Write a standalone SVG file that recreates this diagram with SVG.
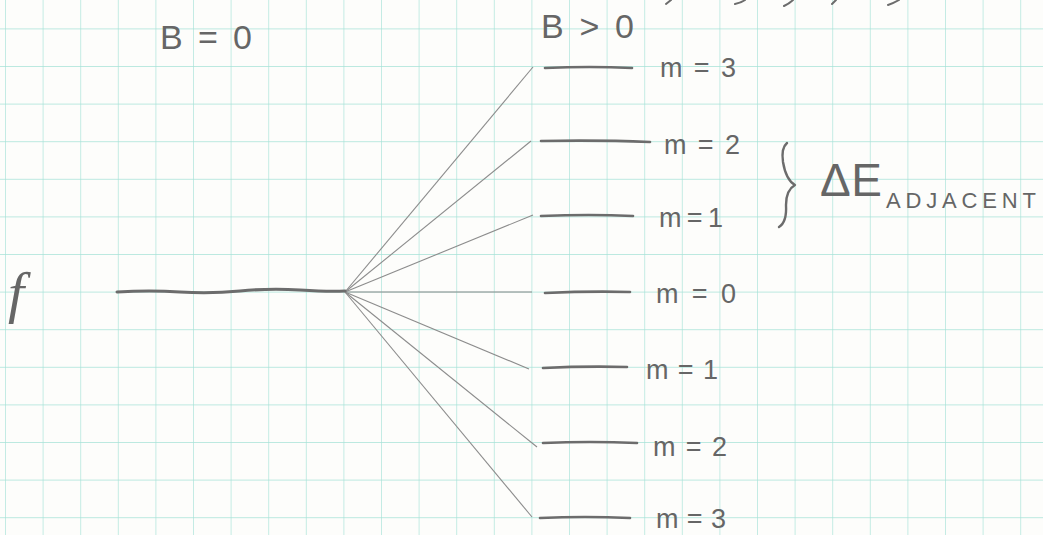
<svg xmlns="http://www.w3.org/2000/svg" width="1043" height="535" viewBox="0 0 1043 535">
  <defs>
    <pattern id="grid" x="5" y="28.4" width="37.6" height="37.6" patternUnits="userSpaceOnUse">
      <path d="M0 0 V37.6 M0 0 H37.6" fill="none" stroke="#a6e2d8" stroke-width="1.3"/>
    </pattern>
    <style>
      .pen { fill: none; stroke: #6c6c6c; stroke-linecap: round; stroke-linejoin: round; }
      .level { stroke-width: 2.6; }
      .fan { fill: none; stroke: #8c8c8c; stroke-width: 1.1; }
      .hand { font-family: "Liberation Sans", "DejaVu Sans", sans-serif; fill: #666666; }
      .mlab { font-size: 27px; }
      .big { font-size: 34px; }
    </style>
  </defs>

  <rect width="1043" height="535" fill="#fdfdfb"/>
  <rect width="1043" height="535" fill="url(#grid)"/>

  <!-- cut-off handwriting at the top edge -->
  <g id="top-fragments" class="pen" stroke-width="2">
    <path d="M666 4 L671 0"/>
    <path d="M735 4 Q741 3 745 0"/>
    <path d="M784 6 Q790 3 793 0"/>
    <path d="M832 4 L836 0"/>
    <path d="M888 5 Q894 3 899 0"/>
  </g>

  <!-- connectors: fan from the zero-field level -->
  <g id="connectors">
    <line class="fan" x1="345" y1="292" x2="533" y2="67"/>
    <line class="fan" x1="345" y1="292" x2="531" y2="141"/>
    <line class="fan" x1="345" y1="292" x2="533" y2="215"/>
    <line class="fan" x1="345" y1="292" x2="532" y2="292"/>
    <line class="fan" x1="345" y1="292" x2="529" y2="369"/>
    <line class="fan" x1="345" y1="292" x2="537" y2="447"/>
    <line class="fan" x1="345" y1="292" x2="532" y2="517"/>
  </g>

  <g id="label-b0">
    <text class="hand big" x="160" y="49" textLength="92" lengthAdjust="spacing">B = 0</text>
  </g>
  <g id="label-bpos">
    <text class="hand big" x="541" y="38" textLength="93" lengthAdjust="spacing">B &gt; 0</text>
  </g>

  <g id="level-f">
    <text x="8" y="312" font-style="italic" font-size="58" fill="#666666" style="font-family:'Liberation Serif',serif">f</text>
    <path class="pen" stroke-width="3" d="M117 292 Q150 290 180 292 T240 291 T300 290 T345 291"/>
  </g>

  <g id="level-m3-up">
    <path class="pen level" d="M545 68 Q590 66 632 68"/>
    <text class="hand mlab" x="660" y="77" textLength="76" lengthAdjust="spacing">m = 3</text>
  </g>
  <g id="level-m2-up">
    <path class="pen level" d="M541 141 Q600 140 650 142"/>
    <text class="hand mlab" x="664" y="154" textLength="76" lengthAdjust="spacing">m = 2</text>
  </g>
  <g id="level-m1-up">
    <path class="pen level" d="M541 216 Q590 214 633 216"/>
    <text class="hand mlab" x="659" y="227" textLength="64" lengthAdjust="spacing">m = 1</text>
  </g>
  <g id="level-m0">
    <path class="pen level" d="M545 293 Q590 291 630 292"/>
    <text class="hand mlab" x="656" y="303" textLength="80" lengthAdjust="spacing">m = 0</text>
  </g>
  <g id="level-m1-down">
    <path class="pen level" d="M543 368 Q585 366 627 367"/>
    <text class="hand mlab" x="646" y="379" textLength="72" lengthAdjust="spacing">m = 1</text>
  </g>
  <g id="level-m2-down">
    <path class="pen level" d="M543 443 Q590 441 637 443"/>
    <text class="hand mlab" x="653" y="456" textLength="74" lengthAdjust="spacing">m = 2</text>
  </g>
  <g id="level-m3-down">
    <path class="pen level" d="M540 518 Q585 516 630 518"/>
    <text class="hand mlab" x="656" y="528" textLength="70" lengthAdjust="spacing">m = 3</text>
  </g>

  <g id="delta-e">
    <path class="pen" stroke-width="2.4" d="M787 143 Q781 148 783 162 Q786 180 795 185 Q786 190 786 205 Q787 222 779 227"/>
    <text class="hand" x="820" y="196" font-size="46" textLength="62" lengthAdjust="spacing">ΔE</text>
    <text class="hand" x="886" y="208" font-size="22" textLength="150" lengthAdjust="spacing">ADJACENT</text>
  </g>
</svg>
